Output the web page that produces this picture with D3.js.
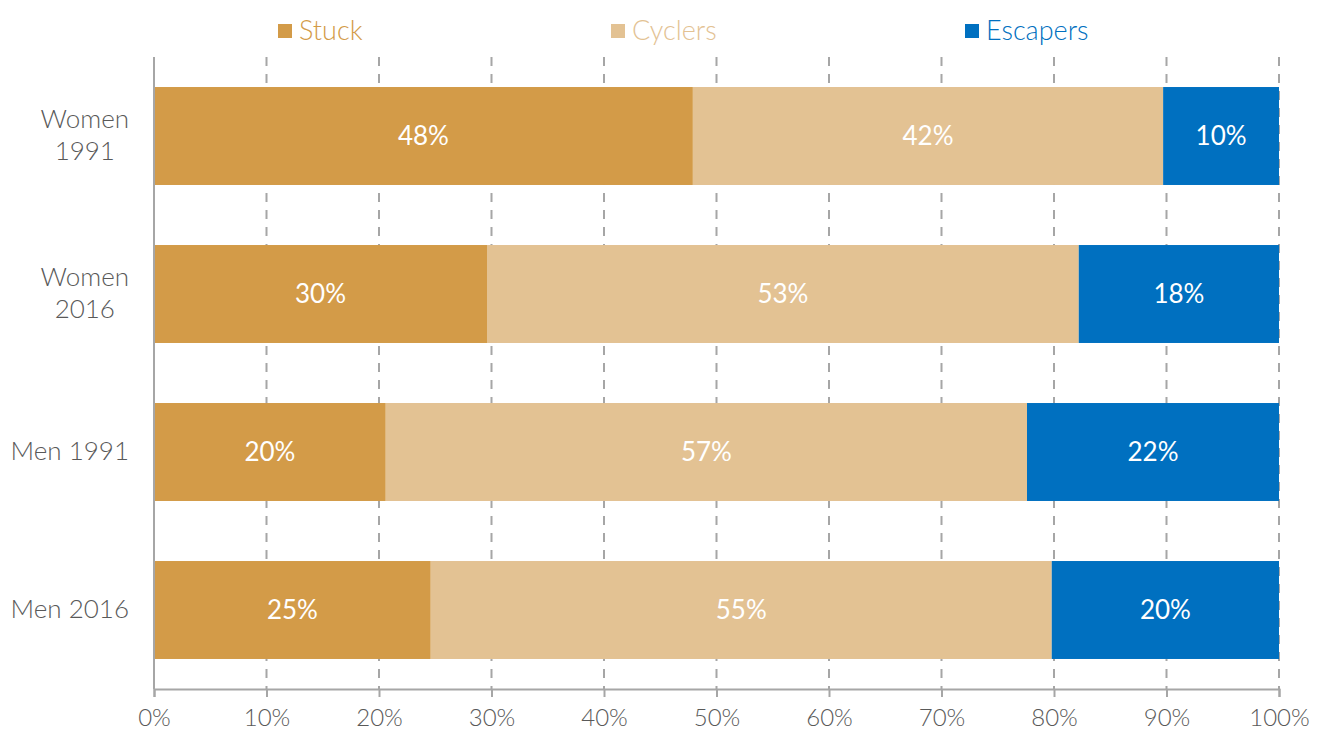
<!DOCTYPE html>
<html>
<head>
<meta charset="utf-8">
<script src="https://cdn.jsdelivr.net/npm/d3@7"></script>
<style>
  html, body { margin: 0; padding: 0; background: #ffffff; }
  svg { display: block; font-family: Lato, "Open Sans", sans-serif; font-weight: 300; }
</style>
</head>
<body>
<svg id="chart" width="1317" height="733"></svg>
<script>
// ---- data ----
const categories = ["Women 1991", "Women 2016", "Men 1991", "Men 2016"];
const categoryLines = [["Women", "1991"], ["Women", "2016"], ["Men 1991"], ["Men 2016"]];
const seriesNames = ["Stuck", "Cyclers", "Escapers"];
const stuck    = [47.9, 29.6, 20.6, 24.6];
const cyclers  = [41.8, 52.6, 57.0, 55.2];
const escapers = [10.3, 17.8, 22.4, 20.2];
const stuckLabels    = ["48%", "30%", "20%", "25%"];
const cyclersLabels  = ["42%", "53%", "57%", "55%"];
const escapersLabels = ["10%", "18%", "22%", "20%"];
const tickValues = [0, 10, 20, 30, 40, 50, 60, 70, 80, 90, 100];
const tickLabels = ["0%", "10%", "20%", "30%", "40%", "50%", "60%", "70%", "80%", "90%", "100%"];
const colors = ["#D39B48", "#E3C293", "#0070C0"];

// ---- table ----
const rows = categories.map((c, i) => ({
  category: c,
  Stuck: stuck[i], Cyclers: cyclers[i], Escapers: escapers[i],
  labels: { Stuck: stuckLabels[i], Cyclers: cyclersLabels[i], Escapers: escapersLabels[i] }
}));

const svg = d3.select("#chart");
const plot = { left: 154, right: 1279, top: 57, bottom: 689 };

const x = d3.scaleLinear().domain([0, 100]).range([plot.left, plot.right]);
const y = d3.scaleBand().domain(categories).range([plot.top, plot.bottom])
  .paddingInner(0.38).paddingOuter(0.19);
const color = d3.scaleOrdinal().domain(seriesNames).range(colors);

const gridColor = "#A6A6A6";
const textColor = "#595959";

// gridlines
svg.append("g").selectAll("line")
  .data(tickValues.filter(v => v > 0))
  .join("line")
  .attr("x1", d => x(d)).attr("x2", d => x(d))
  .attr("y1", plot.top).attr("y2", plot.bottom)
  .attr("stroke", gridColor).attr("stroke-width", 2)
  .attr("stroke-dasharray", "9,8");

// stacked bars
const stack = d3.stack().keys(seriesNames);
const layers = stack(rows);

const gBars = svg.append("g");
layers.forEach(layer => {
  const key = layer.key;
  gBars.append("g").attr("fill", color(key))
    .selectAll("rect").data(layer).join("rect")
    .attr("x", d => x(d[0]))
    .attr("width", d => x(d[1]) - x(d[0]))
    .attr("y", d => y(d.data.category))
    .attr("height", y.bandwidth());
  gBars.append("g").selectAll("text").data(layer).join("text")
    .attr("x", d => (x(d[0]) + x(d[1])) / 2)
    .attr("y", d => y(d.data.category) + y.bandwidth() / 2)
    .attr("dy", "0.35em")
    .attr("text-anchor", "middle")
    .attr("fill", "#ffffff")
    .style("font-size", "26px")
    .style("font-weight", 400)
    .text(d => d.data.labels[key]);
});

// x axis
const xAxis = d3.axisBottom(x).tickValues(tickValues)
  .tickFormat((d, i) => tickLabels[i]).tickSize(8).tickPadding(12);
const gx = svg.append("g").attr("transform", `translate(0,${plot.bottom})`).call(xAxis);
gx.select(".domain").attr("stroke", gridColor).attr("stroke-width", 2);
gx.selectAll(".tick line").attr("stroke", gridColor).attr("stroke-width", 2);
gx.selectAll(".tick text").attr("fill", textColor).style("font-size", "24px")
  .style("font-family", "Lato, 'Open Sans', sans-serif").style("font-weight", 300);

// y axis line
svg.append("line")
  .attr("x1", plot.left).attr("x2", plot.left)
  .attr("y1", plot.top).attr("y2", plot.bottom)
  .attr("stroke", gridColor).attr("stroke-width", 2);

// category labels
const labelRight = 129;
const lineH = 32;
categories.forEach((c, i) => {
  const lines = categoryLines[i];
  const cy = y(c) + y.bandwidth() / 2;
  const t = svg.append("text")
    .attr("text-anchor", "middle")
    .attr("fill", textColor)
    .style("font-size", "26px");
  lines.forEach((ln, j) => {
    t.append("tspan")
      .attr("x", 0)
      .attr("y", cy + (j - (lines.length - 1) / 2) * lineH - 1)
      .attr("dy", "0.35em")
      .text(ln);
  });
  const bb = t.node().getBBox();
  t.attr("transform", `translate(${labelRight - bb.width / 2},0)`);
});

// legend
const legendX = [278, 611, 965];
const gLeg = svg.append("g");
seriesNames.forEach((s, i) => {
  gLeg.append("rect")
    .attr("x", legendX[i]).attr("y", 24)
    .attr("width", 14).attr("height", 14)
    .attr("fill", color(s));
  gLeg.append("text")
    .attr("x", legendX[i] + 21).attr("y", 31)
    .attr("dy", "0.35em")
    .attr("fill", color(s))
    .style("font-size", "27px")
    .text(s);
});
</script>
</body>
</html>
